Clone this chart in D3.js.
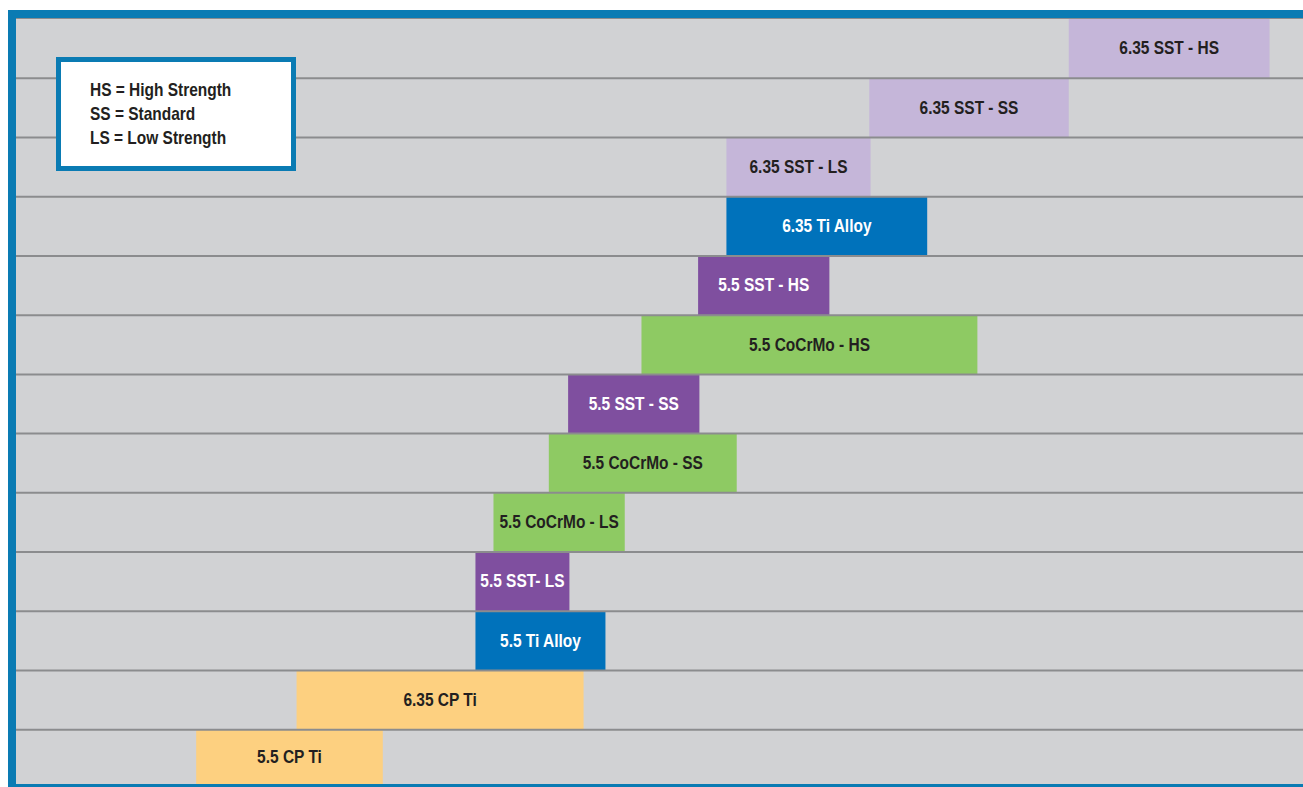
<!DOCTYPE html>
<html>
<head>
<meta charset="utf-8">
<script src="https://cdn.jsdelivr.net/npm/d3@7"></script>
<style>
  html, body { margin: 0; padding: 0; background: #fff; }
  svg { display: block; }
  text { font-family: "Liberation Sans", Arial, sans-serif; font-weight: bold; }
</style>
</head>
<body>
<svg id="chart" width="1303" height="787"></svg>
<script>
// rows from top to bottom
const labels = [
  "6.35 SST - HS", "6.35 SST - SS", "6.35 SST - LS", "6.35 Ti Alloy",
  "5.5 SST - HS", "5.5 CoCrMo - HS", "5.5 SST - SS", "5.5 CoCrMo - SS",
  "5.5 CoCrMo - LS", "5.5 SST- LS", "5.5 Ti Alloy", "6.35 CP Ti", "5.5 CP Ti"
];
const starts = [81.8, 66.3, 55.2, 55.2, 53.0, 48.6, 42.9, 41.4, 37.1, 35.7, 35.7, 21.8, 14.0];
const ends =   [97.4, 81.8, 66.4, 70.8, 63.2, 74.7, 53.1, 56.0, 47.3, 43.0, 45.8, 44.1, 28.5];
const groups = [
  "sst635", "sst635", "sst635", "ti",
  "sst55", "cocr", "sst55", "cocr",
  "cocr", "sst55", "ti", "cpti", "cpti"
];
const legendLines = ["HS = High Strength", "SS = Standard", "LS = Low Strength"];

const fills = { sst635: "#c5b6d9", ti: "#0072bb", sst55: "#7f4f9f", cocr: "#8eca63", cpti: "#fdd080" };
const textColors = { sst635: "#231f20", ti: "#ffffff", sst55: "#ffffff", cocr: "#231f20", cpti: "#231f20" };

const svg = d3.select("#chart");
const frame = { left: 16, top: 18, right: 1303, bottom: 784 };
const squeeze = 0.86;

const x = d3.scaleLinear().domain([0, 100]).range([frame.left, frame.right]);
// the last row runs past the bottom of the frame and is cut off
const y = d3.scaleBand().domain(labels).range([19, 789]);

const rows = labels.map((label, i) => ({ label, start: starts[i], end: ends[i], group: groups[i] }));

svg.append("clipPath").attr("id", "plot")
  .append("rect")
  .attr("x", frame.left).attr("y", frame.top)
  .attr("width", frame.right - frame.left).attr("height", frame.bottom - frame.top);

// blue frame
svg.append("rect")
  .attr("x", 8).attr("y", 10)
  .attr("width", 1303 - 8).attr("height", 787 - 10)
  .attr("fill", "#0a7bb3");

const plot = svg.append("g").attr("clip-path", "url(#plot)");

plot.append("rect")
  .attr("x", frame.left).attr("y", frame.top)
  .attr("width", frame.right - frame.left).attr("height", frame.bottom - frame.top)
  .attr("fill", "#d1d2d4");

plot.append("line")
  .attr("x1", frame.left).attr("x2", frame.right)
  .attr("y1", frame.top + 0.5).attr("y2", frame.top + 0.5)
  .attr("stroke", "#8b8c8e");

plot.append("g").selectAll("rect")
  .data(rows)
  .join("rect")
  .attr("x", d => x(d.start))
  .attr("y", d => y(d.label))
  .attr("width", d => x(d.end) - x(d.start))
  .attr("height", y.bandwidth())
  .attr("fill", d => fills[d.group]);

// row separators
plot.append("g").selectAll("line")
  .data(labels.slice(1))
  .join("line")
  .attr("x1", frame.left).attr("x2", frame.right)
  .attr("y1", d => y(d)).attr("y2", d => y(d))
  .attr("stroke", "#8b8c8e")
  .attr("stroke-width", 2);

plot.append("g").selectAll("text")
  .data(rows)
  .join("text")
  .attr("transform", d => {
    const top = Math.max(y(d.label), frame.top);
    const bottom = Math.min(y(d.label) + y.bandwidth(), frame.bottom);
    return `translate(${(x(d.start) + x(d.end)) / 2},${(top + bottom) / 2 + 1}) scale(${squeeze},1)`;
  })
  .attr("text-anchor", "middle")
  .attr("dominant-baseline", "middle")
  .attr("font-size", 18)
  .attr("fill", d => textColors[d.group])
  .text(d => d.label);

// legend box
const legend = svg.append("g").attr("transform", "translate(56,57)");
legend.append("rect")
  .attr("x", 2.5).attr("y", 2.5)
  .attr("width", 235).attr("height", 109)
  .attr("fill", "#fff")
  .attr("stroke", "#0a7bb3")
  .attr("stroke-width", 5);
legend.selectAll("text")
  .data(legendLines)
  .join("text")
  .attr("transform", (d, i) => `translate(34,${39 + i * 24}) scale(${squeeze},1)`)
  .attr("font-size", 18)
  .attr("fill", "#231f20")
  .text(d => d);
</script>
</body>
</html>
